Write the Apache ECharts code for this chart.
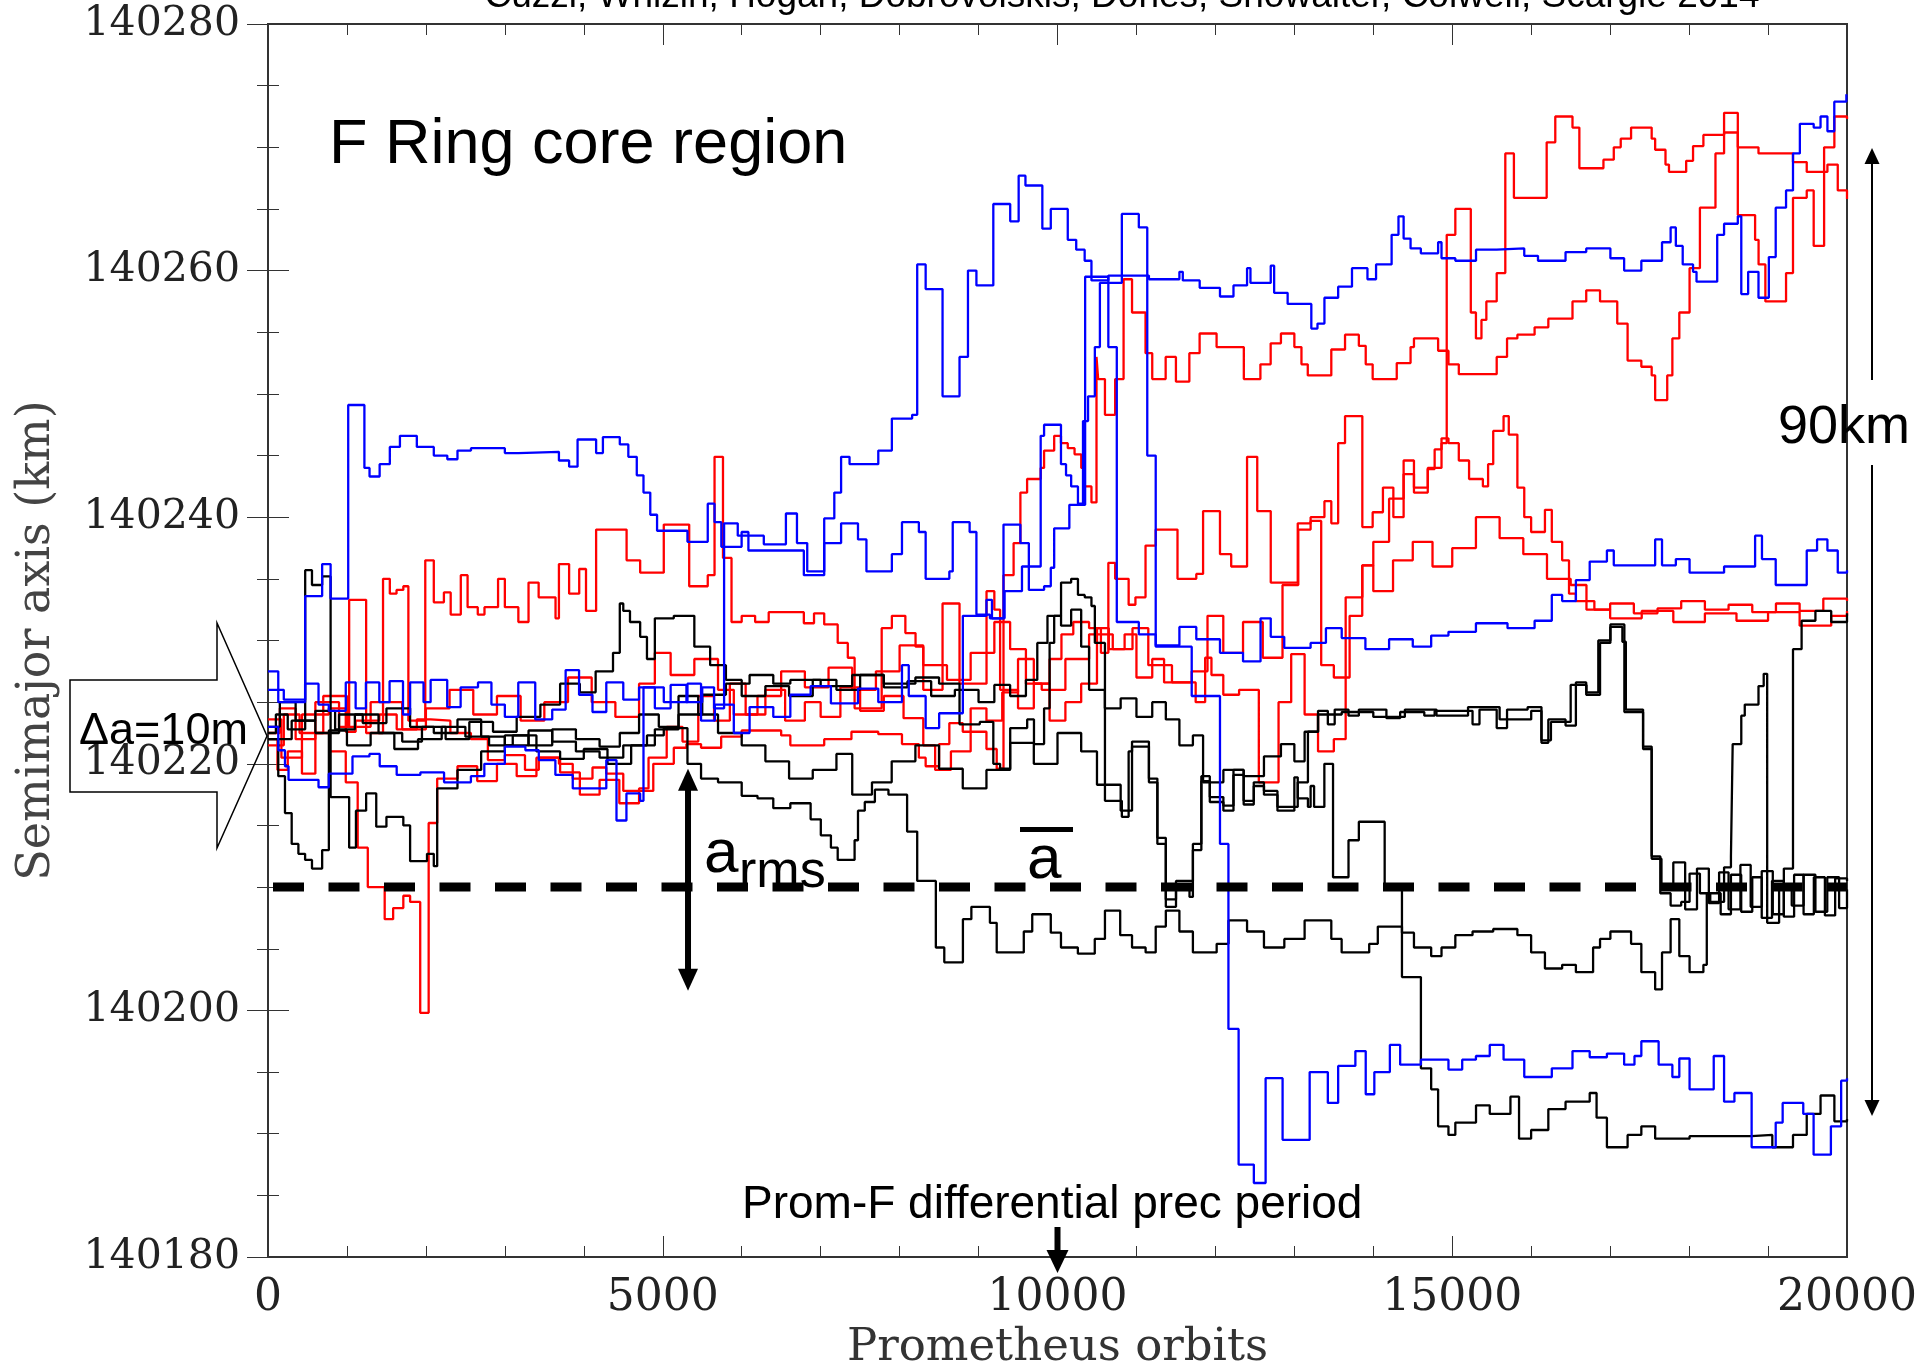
<!DOCTYPE html>
<html><head><meta charset="utf-8">
<script src="https://cdn.jsdelivr.net/npm/echarts@6/dist/echarts.min.js"></script>
<style>html,body{margin:0;padding:0;background:#fff}#chart{width:1923px;height:1364px}</style>
</head><body><div id="chart"></div>
<script>
// ---------- axis ticks ----------
const xTicks = [0, 5000, 10000, 15000, 20000];
const yTicks = [140180, 140200, 140220, 140240, 140260, 140280];
const meanA = 140210;

// ---------- series (orbit, semimajor axis km), step lines ----------
const blue1 = [[0,140226],[200,140225.2],[471,140233.6],[686,140236.2],[793,140233.4],[1016,140249.1],[1221,140244],[1286,140243.3],[1414,140244.3],[1543,140245.7],[1671,140246.6],[1885,140245.7],[2100,140245],[2271,140244.7],[2400,140245.4],[2571,140245.6],[3000,140245.2],[3171,140245.3],[3685,140244.6],[3814,140244.1],[3921,140246.3],[4156,140245.2],[4242,140246.5],[4456,140245.9],[4564,140244.9],[4671,140243.4],[4756,140242],[4842,140240.2],[4928,140238.9],[5313,140238],[5570,140241.1],[5656,140239.6],[5742,140237.6],[5999,140238.8],[6085,140237.3],[6787,140235.3],[7045,140239.9],[7173,140242],[7259,140244.9],[7366,140244.3],[7730,140245.4],[7902,140248],[8159,140248.3],[8223,140260.5],[8330,140258.5],[8544,140249.8],[8759,140253],[8866,140260],[8973,140258.8],[9187,140265.4],[9401,140264],[9508,140267.7],[9594,140266.9],[9808,140263.4],[9915,140265],[10130,140262.5],[10237,140261.7],[10344,140260.8],[10430,140259.2],[10644,140259.6],[11158,140259.3],[11544,140259.9],[11587,140259.2],[11801,140258.6],[12058,140257.9],[12229,140258.8],[12401,140260.2],[12444,140259],[12701,140260.4],[12744,140258.2],[12915,140257.3],[13215,140255.3],[13293,140255.7],[13381,140257.8],[13555,140258.7],[13730,140260.2],[13926,140259.3],[14035,140260.5],[14232,140262.9],[14319,140264.4],[14384,140262.6],[14472,140261.8],[14602,140261.4],[14821,140262.3],[14864,140261],[15039,140260.8],[15301,140261.7],[15563,140261.8],[15912,140261.2],[16086,140260.8],[16435,140261.5],[16697,140261.8],[17003,140261],[17177,140260],[17395,140260.8],[17657,140262.3],[17766,140263.5],[17832,140262],[17919,140260.5],[18050,140259.9],[18094,140259.1],[18356,140262.9],[18443,140263.8],[18617,140264.4],[18661,140258.1],[18748,140259.9],[18879,140257.8],[19010,140261.1],[19097,140265.1],[19228,140266.5],[19316,140269.5],[19403,140271.9],[19578,140271.6],[19665,140272.5],[19752,140271.3],[19839,140273.7],[19992,140274.3],[20000,140274.3]];
const blue2 = [[0,140227.5],[130,140225],[470,140226.5],[640,140224.8],[770,140224.3],[985,140226.6],[1110,140224.5],[1240,140226.6],[1410,140225],[1540,140226.7],[1710,140224],[1800,140226.6],[1970,140225],[2060,140226.8],[2270,140224.6],[2440,140226.2],[2660,140226.6],[2830,140224.8],[3000,140223.8],[3170,140226.6],[3385,140223.6],[3600,140224.4],[3770,140227.6],[3940,140225.6],[4110,140224.2],[4285,140226.6],[4500,140225.2],[4700,140226.2],[4900,140224.5],[5100,140226.4],[5300,140225],[5500,140226.2],[5650,140224.5],[5777,140239.5],[5950,140238.5],[6280,140237.8],[6560,140240.3],[6700,140237.9],[6830,140235.6],[7045,140237.9],[7259,140239.5],[7473,140238.2],[7580,140235.6],[7902,140237],[8030,140239.6],[8244,140238.8],[8330,140235],[8630,140235.6],[8673,140239.6],[8887,140238.8],[8973,140232.1],[9144,140231.8],[9316,140239.4],[9530,140237.9],[9637,140234.1],[9830,140234.4],[9915,140235.9],[9958,140239.1],[10150,140241],[10350,140259.5],[10644,140253.8],[10751,140231.5],[11030,140230.5],[11244,140229.6],[11544,140231.1],[11758,140230.1],[12058,140229],[12350,140228.3],[12572,140231.8],[12701,140230.3],[12872,140229.4],[13206,140229.8],[13400,140231],[13600,140230.2],[13900,140229.3],[14200,140230.1],[14500,140229.5],[14733,140230.4],[14952,140230.7],[15300,140231.4],[15700,140231],[16043,140231.6],[16261,140233.7],[16392,140233.2],[16566,140234.9],[16741,140236.4],[16959,140237.3],[17046,140236.1],[17570,140238.2],[17657,140236.1],[17832,140236.6],[18006,140235.5],[18443,140236],[18836,140238.5],[18923,140236.6],[19097,140234.5],[19490,140237.3],[19621,140238.2],[19752,140237.3],[19883,140235.5],[20000,140235.7]];
const blue3 = [[0,140223],[130,140221.1],[215,140219.8],[260,140218.7],[640,140218.1],[770,140219.2],[1070,140220.6],[1285,140220.8],[1415,140219.8],[1630,140219.1],[1930,140219.3],[2230,140218.5],[2570,140219],[2740,140220],[3000,140221.4],[3260,140221.1],[3430,140220.3],[3640,140219.1],[3860,140218],[4285,140220.3],[4414,140215.4],[4540,140217.6],[4714,140217],[4756,140226.2],[5013,140225],[5313,140226.5],[5485,140223.5],[5660,140224.8],[5900,140222.5],[6100,140224.6],[6400,140223.8],[6616,140225.6],[6873,140226.3],[7130,140224.9],[7473,140226.1],[7730,140225],[8030,140228],[8116,140225.5],[8330,140222.9],[8501,140224.1],[8801,140232],[9100,140233.3],[9170,140231.8],[9330,140234],[9550,140236],[9787,140246.6],[9830,140247.5],[10044,140244.3],[10108,140243.4],[10173,140242.5],[10259,140241.1],[10323,140247.8],[10387,140249.8],[10473,140253.8],[10537,140259],[10815,140264.6],[11030,140263.5],[11137,140245],[11244,140229.5],[11700,140225.5],[12058,140213.5],[12165,140198.5],[12294,140187.5],[12487,140186],[12636,140194.5],[12851,140189.5],[13194,140195],[13424,140192.5],[13555,140195.5],[13773,140196.7],[13904,140193.2],[14013,140195],[14210,140197.2],[14340,140195.6],[14603,140196],[14952,140195.2],[15126,140196],[15300,140196.3],[15475,140197.2],[15650,140196],[15912,140194.6],[16261,140195.3],[16523,140196.7],[16741,140196.2],[16959,140196.5],[17177,140195.6],[17308,140196.3],[17395,140197.5],[17614,140195.6],[17788,140194.6],[17876,140196.1],[18006,140193.6],[18312,140196.3],[18443,140192.6],[18574,140193.3],[18792,140188.9],[19097,140190.9],[19185,140192.5],[19446,140191.6],[19577,140188.3],[19796,140190.6],[19926,140194.3],[20000,140194.5]];

const red1 = [[0,140223.6],[170,140220.5],[430,140224],[770,140224.5],[985,140222.6],[1110,140223.5],[1410,140224],[1630,140222.8],[1885,140223.6],[2060,140223.5],[2310,140222.5],[2570,140222],[2785,140220.3],[3000,140220.7],[3255,140219.5],[3430,140220.5],[3685,140220],[3860,140218.8],[4110,140219.7],[4285,140219.2],[4500,140217.8],[4880,140220],[5140,140221.3],[5300,140221.6],[5485,140221.3],[5740,140222.2],[6000,140222.7],[6500,140222.3],[6616,140221.5],[7045,140222],[7390,140222.6],[7730,140222.4],[8030,140221.6],[8244,140220.5],[8330,140219.8],[8500,140221.6],[8630,140223.3],[8800,140222.6],[9100,140221.2],[9230,140219.6],[9316,140235.3],[9444,140237.9],[9530,140242],[9615,140243.1],[9787,140244],[9830,140245.4],[9958,140246.6],[10044,140246],[10130,140245.6],[10216,140245.1],[10301,140244],[10345,140242.5],[10430,140241.2],[10494,140253],[10515,140251.2],[10601,140248.3],[10730,140251.2],[10837,140259.3],[10944,140256.6],[11115,140253.3],[11200,140251.2],[11370,140253],[11500,140251],[11670,140253.3],[11800,140254.9],[12015,140253.8],[12360,140251.2],[12570,140252.4],[12700,140254.1],[12830,140254.9],[13000,140253.8],[13090,140252.4],[13170,140251.5],[13468,140253.6],[13642,140254.8],[13817,140253.9],[13904,140252.4],[13992,140251.2],[14297,140252.5],[14472,140253.8],[14515,140254.5],[14821,140253.5],[14952,140252.4],[15083,140251.6],[15563,140253],[15694,140254.5],[15825,140254.8],[16043,140255.4],[16217,140256.1],[16523,140257.5],[16697,140258.4],[16872,140257.5],[17090,140255.7],[17221,140252.7],[17395,140252.2],[17526,140251.5],[17570,140249.5],[17723,140251.5],[17788,140254.5],[17876,140256.6],[18006,140260.2],[18137,140265.1],[18334,140269.5],[18443,140272.8],[18617,140264.5],[18836,140262.5],[18880,140260.5],[18966,140257.5],[19228,140259.8],[19316,140265.9],[19490,140266.5],[19578,140262],[19710,140270],[19840,140272.5],[20000,140272.3]];
const red2 = [[0,140222.5],[150,140224.5],[350,140222],[600,140225],[900,140223],[1028,140233.3],[1243,140222.5],[1457,140235],[1543,140233.8],[1628,140234.1],[1714,140234.4],[1778,140223.5],[1992,140236.5],[2100,140233.1],[2228,140233.9],[2314,140232.1],[2442,140235.3],[2528,140232.7],[2657,140232.1],[2742,140232.7],[2914,140235],[3000,140232.7],[3171,140231.5],[3300,140234.7],[3428,140233.5],[3642,140231.8],[3685,140236.2],[3814,140233.8],[3942,140235.8],[4028,140232.4],[4156,140239],[4542,140236.5],[4714,140235.5],[5013,140239.4],[5335,140234.4],[5570,140235.3],[5656,140244.9],[5763,140236.7],[5871,140231.5],[6000,140232],[6170,140231.5],[6342,140232.3],[6616,140232.3],[6787,140231.4],[6916,140232.2],[7045,140231.3],[7216,140229.8],[7344,140228.6],[7430,140224.5],[7773,140231],[7902,140232],[8073,140230.6],[8202,140229.5],[8300,140226],[8544,140233],[8759,140226.5],[9101,140234],[9200,140232.5],[9273,140226],[9500,140224.5],[9700,140226.5],[9900,140228.5],[10050,140230.5],[10200,140231.5],[10400,140231],[10550,140229],[10644,140236.3],[10730,140235],[10901,140232.9],[10987,140233.5],[11115,140237.7],[11244,140239],[11520,140235],[11758,140235.4],[11844,140240.5],[12058,140237],[12200,140236],[12401,140244.9],[12530,140240.5],[12701,140234.7],[13043,140239.5],[13206,140240],[13381,140241.3],[13468,140239.5],[13555,140246],[13642,140248.2],[13861,140239.2],[13992,140240.4],[14122,140242.4],[14254,140240],[14384,140244.6],[14515,140242.4],[14690,140243.9],[14777,140245.5],[14864,140246.4],[14952,140246],[15083,140244.6],[15213,140243.1],[15388,140242.5],[15454,140244.3],[15519,140247],[15650,140248.2],[15716,140246.7],[15825,140242.4],[15912,140240],[15999,140238.8],[16174,140240.6],[16261,140238],[16392,140236.5],[16479,140233.8],[16566,140233.2],[16800,140232.5],[17000,140233],[17300,140232.2],[17600,140232.6],[17900,140233.2],[18200,140232.5],[18500,140232.9],[18800,140232.3],[19100,140233],[19400,140232.4],[19700,140233.4],[20000,140233.2]];
const red3 = [[0,140221.5],[200,140224],[400,140222.5],[700,140225.5],[1000,140223],[1300,140225],[1700,140222.8],[2000,140224.5],[2300,140226],[2600,140224],[2900,140225.5],[3200,140223.5],[3500,140225],[3800,140227],[4100,140225],[4400,140223.8],[4700,140226.5],[4900,140229],[5100,140227.2],[5400,140228.5],[5700,140226],[5900,140224],[6200,140225.5],[6500,140227.5],[6800,140226.2],[7100,140227.8],[7400,140226],[7700,140227.5],[8000,140229.6],[8300,140228],[8600,140226.8],[8900,140229],[9200,140231.5],[9400,140229.3],[9600,140226.5],[9800,140226],[10100,140228.5],[10400,140230.5],[10700,140229.3],[10950,140231],[11150,140228],[11450,140226.6],[11700,140227.5],[11900,140232],[12100,140229],[12350,140231.5],[12600,140228.6],[12850,140234.5],[13050,140239],[13206,140239.7],[13340,140228],[13500,140227],[13700,140232],[13860,140236.1],[14000,140238],[14200,140241.5],[14384,140243.5],[14515,140242],[14690,140244],[14864,140246],[14930,140262.9],[15039,140265],[15235,140256.6],[15300,140254.5],[15370,140256],[15432,140257.5],[15563,140259.8],[15672,140269.5],[15781,140265.9],[16196,140270.4],[16305,140272.5],[16523,140271.6],[16610,140268.3],[16915,140269],[17046,140270],[17134,140270.7],[17265,140271.6],[17526,140270.7],[17570,140269.8],[17701,140268.6],[17745,140268],[17963,140268.9],[18050,140270.1],[18181,140271],[18443,140271.2],[18617,140270],[18879,140269.5],[19316,140268.8],[19490,140268],[19752,140268.6],[19883,140266.5],[20000,140265.8]];
const red4 = [[0,140222],[120,140219.5],[250,140221],[430,140219.2],[600,140222.5],[780,140221],[985,140218.5],[1136,140213.2],[1264,140210],[1478,140207.4],[1585,140208.3],[1714,140209.3],[1800,140208.8],[1928,140199.8],[2035,140215.2],[2143,140218.8],[2400,140219.8],[2650,140218.6],[2900,140220],[3150,140219],[3400,140220.5],[3700,140219.3],[3950,140217.5],[4200,140218.7],[4450,140216.8],[4700,140218],[4820,140220.5],[5050,140223],[5250,140221.8],[5450,140225.5],[5650,140223.5],[5850,140226.5],[6050,140224],[6300,140226],[6550,140223.5],[6800,140225],[7000,140223.8],[7250,140226.2],[7500,140224.3],[7800,140225.5],[8050,140223.7],[8300,140221.5],[8450,140219.5],[8650,140221],[8900,140224.5],[9100,140223.5],[9300,140225.8],[9500,140228.5],[9700,140226.5],[9900,140223.5],[10100,140225],[10300,140226.5],[10500,140231],[10650,140229.3],[10850,140230.5],[11000,140227],[11200,140228.5],[11350,140226.6],[11750,140225],[11870,140228.6],[11950,140227.2],[12100,140225.6],[12300,140226],[12550,140218.5],[12800,140225],[12960,140228.9],[13130,140224],[13300,140221],[13500,140222],[13650,140233.5],[13861,140236.1],[14000,140234],[14250,140236.5],[14500,140238],[14750,140236],[15000,140237.5],[15300,140240],[15600,140238.3],[15900,140237],[16200,140235],[16500,140234.5],[16700,140232.5],[17000,140231.8],[17400,140232.4],[17800,140231.5],[18200,140232.2],[18600,140231.6],[19000,140232.3],[19400,140231.2],[19800,140232],[20000,140232.4]];

const black1 = [[0,140222],[130,140219],[215,140216],[300,140213.5],[385,140212.7],[470,140212.2],[557,140211.5],[686,140213],[771,140222.7],[1000,140221.5],[1300,140222.5],[1600,140221.2],[1900,140222],[2200,140223],[2500,140222.2],[2800,140221.5],[3100,140222.3],[3400,140221],[3700,140220.4],[4000,140221.2],[4300,140220],[4600,140221.5],[4900,140222.8],[5200,140224],[5500,140225.6],[5800,140226.5],[6100,140227.2],[6400,140226.5],[6616,140226.8],[7000,140226.3],[7400,140227.2],[7800,140226.5],[8200,140227],[8500,140226.5],[8759,140223.2],[9016,140223.4],[9187,140220],[9273,140219.6],[9401,140222.9],[9616,140223.6],[9702,140221.6],[9830,140224.5],[9900,140229.8],[9958,140232],[10045,140234.7],[10173,140235],[10259,140233.7],[10345,140233.5],[10430,140232.8],[10473,140229.8],[10601,140217],[10815,140215.7],[10901,140221],[10944,140221.8],[11158,140218.5],[11265,140213.5],[11372,140208.4],[11501,140210],[11672,140209.2],[11715,140213.5],[11822,140219],[11929,140216.9],[12101,140216.2],[12229,140219.5],[12358,140216.7],[12486,140218.2],[12615,140217.5],[12786,140216.2],[13000,140218.9],[13043,140217.2],[13172,140216.5],[13206,140218.2],[13250,140216.5],[13380,140220],[13490,140210.8],[13686,140213.8],[13817,140215.3],[14144,140210],[14363,140202.7],[14603,140195.3],[14733,140193.6],[14821,140190.6],[14952,140189.9],[15039,140190.9],[15301,140192.3],[15475,140191.6],[15737,140193],[15846,140189.6],[15999,140190.3],[16217,140192],[16435,140192.6],[16741,140193.3],[16828,140191.3],[16959,140188.9],[17221,140189.9],[17395,140190.6],[17570,140189.6],[18006,140189.8],[18792,140189.9],[19054,140188.9],[19316,140189.9],[19490,140191.6],[19665,140193.1],[19840,140191],[20000,140191.2]];
const black2 = [[0,140222],[300,140223.5],[600,140222.5],[900,140224],[1200,140223.3],[1500,140224.5],[1800,140223],[2100,140222.5],[2400,140223.6],[2700,140222.2],[3000,140221.5],[3300,140222.7],[3600,140221.8],[3900,140221],[4200,140220.5],[4500,140221.5],[4800,140222.3],[5013,140222.9],[5313,140220],[5485,140218.8],[5700,140218.5],[6000,140217.4],[6200,140217.2],[6400,140216.4],[6616,140216.8],[6873,140215.5],[7002,140214.2],[7130,140213.2],[7216,140212.2],[7430,140213.8],[7473,140216.2],[7559,140216.9],[7687,140217.9],[7859,140217.5],[8095,140214.5],[8223,140210.5],[8459,140205.1],[8566,140203.9],[8802,140207.4],[8909,140208.4],[9144,140207.1],[9230,140204.7],[9573,140206.4],[9680,140207.8],[9915,140206.3],[10044,140205.1],[10258,140204.6],[10472,140205.8],[10601,140208.1],[10794,140206.1],[10944,140205.1],[11116,140204.7],[11244,140206.8],[11372,140208.1],[11544,140206.4],[11715,140204.7],[12016,140205.4],[12166,140207.3],[12401,140206.4],[12615,140205.1],[12873,140205.8],[13130,140207.3],[13468,140205.8],[13599,140204.7],[13948,140205.4],[14057,140206.8],[14363,140206.3],[14515,140205.1],[14733,140204.4],[14864,140205.1],[15039,140206.1],[15257,140206.4],[15519,140206.6],[15825,140206.1],[15999,140204.7],[16174,140203.4],[16392,140203.7],[16566,140203.1],[16784,140205.1],[16872,140205.8],[17003,140206.4],[17265,140205.4],[17395,140203.1],[17570,140201.7],[17657,140204.7],[17766,140207.4],[17876,140204.4],[18006,140203.1],[18181,140203.7],[18224,140209.5],[18400,140207.8],[18530,140211],[18660,140208],[18800,140210.8],[18920,140207.5],[19050,140210.5],[19200,140207.6],[19330,140211],[19450,140207.8],[19580,140210.8],[19720,140207.7],[19850,140210.7],[20000,140210.5]];
const black3 = [[0,140223],[150,140225],[350,140223.5],[600,140224.3],[850,140222.8],[1100,140224],[1400,140222.5],[1700,140221.8],[1950,140223],[2250,140222],[2550,140223.4],[2850,140222.6],[3150,140223.8],[3450,140224.8],[3700,140226.5],[3950,140225.8],[4150,140227.5],[4370,140229],[4456,140233],[4500,140232.4],[4585,140231.5],[4714,140230.3],[4800,140228.5],[4900,140231.8],[5140,140232],[5400,140229.5],[5600,140228],[5800,140226.8],[6000,140225.5],[6300,140226.3],[6600,140225.5],[6900,140226.8],[7200,140226],[7500,140227.2],[7800,140226.2],[8100,140226.7],[8400,140225.5],[8700,140226],[9000,140225],[9200,140226.4],[9400,140225.5],[9600,140226.8],[9744,140229.8],[9873,140232],[10045,140231.2],[10173,140232.5],[10300,140229.5],[10400,140226],[10600,140224.5],[10800,140225.3],[11000,140223.8],[11200,140225],[11372,140223.6],[11544,140221.5],[11715,140222.3],[11844,140218.5],[12101,140219.5],[12358,140219],[12615,140220.6],[12830,140221.6],[13000,140220.2],[13130,140222.6],[13300,140224.3],[13424,140223.2],[13511,140224.4],[13686,140223.9],[13817,140224.4],[14166,140223.7],[14340,140224.2],[14646,140223.9],[14777,140224.3],[15257,140223.2],[15345,140224.4],[15563,140222.9],[15694,140224.4],[15955,140224.6],[16130,140221.7],[16217,140223.6],[16435,140223.1],[16566,140226.6],[16697,140225.6],[16872,140229.8],[17003,140231.1],[17155,140229.9],[17199,140224.4],[17417,140221.4],[17526,140212.5],[17635,140209.5],[17766,140208.5],[17900,140208.8],[18006,140211.1],[18137,140209.5],[18268,140208.8],[18443,140211.6],[18530,140212.5],[18552,140221.6],[18661,140223.9],[18705,140224.8],[18879,140226.3],[18945,140227.3],[18989,140207.1],[19140,140210.1],[19300,140208.5],[19450,140211],[19600,140208],[19750,140210.8],[19900,140208.3],[20000,140209.8]];
const black4 = [[0,140222.5],[100,140224],[250,140222.8],[471,140235.7],[557,140234.5],[686,140235.2],[793,140217.3],[1028,140213.2],[1114,140216.2],[1243,140217.6],[1371,140214.9],[1500,140215.7],[1714,140215],[1800,140212.1],[2014,140212.7],[2100,140211.7],[2143,140218],[2400,140219.5],[2700,140221],[3000,140222.3],[3300,140221.5],[3600,140222.8],[3900,140222],[4200,140221.4],[4456,140222.5],[4700,140224],[4950,140223],[5200,140225.5],[5450,140224],[5700,140222.5],[6000,140221.5],[6300,140220.2],[6600,140218.8],[6900,140219.5],[7200,140220.8],[7400,140217.5],[7650,140218.5],[7900,140220.2],[8200,140221.5],[8500,140219.6],[8800,140218],[9100,140219.5],[9400,140221.7],[9700,140220],[10000,140222.5],[10300,140221],[10500,140218.3],[10800,140216.2],[10944,140221.4],[11158,140218.8],[11265,140214],[11372,140209],[11501,140210.5],[11715,140213],[11822,140218.6],[11929,140217.3],[12101,140216.6],[12229,140219.1],[12358,140217],[12486,140218.5],[12615,140217.8],[12786,140216.5],[13043,140218.5],[13172,140222.6],[13300,140224],[13600,140224.2],[14000,140223.8],[14400,140224.4],[14800,140223.9],[15200,140224.6],[15600,140223.6],[16000,140224.3],[16130,140221.9],[16250,140223.4],[16500,140226.4],[16700,140225.8],[16850,140230],[17003,140231.3],[17180,140224.2],[17417,140221.2],[17526,140212.3],[17650,140209.8],[17800,140212],[17950,140208.2],[18100,140211.5],[18250,140208.7],[18380,140211.2],[18500,140208.2],[18650,140211.8],[18780,140208.4],[18920,140211.3],[19060,140207.8],[19200,140211.5],[19316,140229.3],[19425,140231.6],[19600,140232.4],[19800,140231.5],[20000,140232.2]];

// ---------- annotation anchors (data coordinates) ----------
const armsX = 5320, armsTop = 140219.6, armsBottom = 140201.6;
const precX = 10000;

const BLUE = '#0000ff', RED = '#ff0000', BLACK = '#000000';
const lines = [
  [red1, RED], [red2, RED], [red3, RED], [red4, RED],
  [black1, BLACK], [black2, BLACK], [black3, BLACK], [black4, BLACK],
  [blue1, BLUE], [blue2, BLUE], [blue3, BLUE]
];

const chart = echarts.init(document.getElementById('chart'), null, {renderer: 'canvas'});
const serif = "'DejaVu Serif', serif";
const sans = "'Liberation Sans', Arial, sans-serif";
const xMin = xTicks[0], xMax = xTicks[xTicks.length - 1], xStep = xTicks[1] - xTicks[0];
const yMin = yTicks[0], yMax = yTicks[yTicks.length - 1], yStep = yTicks[1] - yTicks[0];
const plain = v => String(v);

const tickCommon = {inside: true, length: 21, lineStyle: {color: '#333', width: 1}};
const minorCommon = {show: true, length: 11, lineStyle: {color: '#333', width: 1}};

const series = lines.map(([d, c]) => ({
  type: 'line', data: d, step: 'end', symbol: 'none', silent: true,
  lineStyle: {color: c, width: 2.3}, z: 2
}));
series.push({
  type: 'line', data: [[xMin, meanA], [xMax, meanA]], symbol: 'none', silent: true,
  lineStyle: {color: '#000', width: 9, type: [31, 24.5], dashOffset: 50.5, cap: 'butt'}, z: 5
});

chart.setOption({
  animation: false,
  backgroundColor: '#fff',
  grid: {left: 268, right: 76, top: 24, bottom: 107, containLabel: false, outerBoundsMode: 'none',
         show: true, borderColor: '#333', borderWidth: 2, backgroundColor: 'transparent'},
  xAxis: [{
    type: 'value', min: xMin, max: xMax, interval: xStep, position: 'bottom',
    axisLine: {show: false}, axisTick: tickCommon, minorTick: Object.assign({splitNumber: 5}, minorCommon),
    splitLine: {show: false}, minorSplitLine: {show: false},
    axisLabel: {fontFamily: serif, fontSize: 44, color: '#222', margin: 20, formatter: plain},
    name: 'Prometheus orbits', nameLocation: 'middle', nameGap: 62,
    nameTextStyle: {fontFamily: serif, fontSize: 45, color: '#333'}
  }, {
    type: 'value', min: xMin, max: xMax, interval: xStep, position: 'top',
    axisLine: {show: false}, axisTick: tickCommon, minorTick: Object.assign({splitNumber: 5}, minorCommon),
    splitLine: {show: false}, axisLabel: {show: false}
  }],
  yAxis: [{
    type: 'value', min: yMin, max: yMax, interval: yStep, position: 'left',
    axisLine: {show: false}, axisTick: tickCommon, minorTick: Object.assign({splitNumber: 4}, minorCommon),
    splitLine: {show: false}, minorSplitLine: {show: false},
    axisLabel: {fontFamily: serif, fontSize: 41, color: '#222', margin: 28, formatter: plain},
    name: 'Semimajor axis (km)', nameLocation: 'middle', nameGap: 208, nameRotate: 90,
    nameTextStyle: {fontFamily: serif, fontSize: 46, color: '#444'}
  }, {
    type: 'value', min: yMin, max: yMax, interval: yStep, position: 'right',
    axisLine: {show: false}, axisTick: tickCommon, minorTick: Object.assign({splitNumber: 4}, minorCommon),
    splitLine: {show: false}, axisLabel: {show: false}
  }],
  series: series
});

const px = (x, y) => chart.convertToPixel({xAxisIndex: 0, yAxisIndex: 0}, [x, y]);
const aT = px(armsX, armsTop), aB = px(armsX, armsBottom);
const pr = px(precX, yMin);
const ax = aT[0];

function txt(text, x, y, size, align) {
  return {type: 'text', z: 100, style: {text: text, x: x, y: y, fill: '#000', font: size + 'px ' + sans, textAlign: align || 'left', textVerticalAlign: 'middle'}};
}

const graphics = [
  txt('Cuzzi, Whizin, Hogan, Dobrovolskis, Dones, Showalter, Colwell, Scargle 2014', 1122, -3, 37, 'center'),
  txt('F Ring core region', 329, 146, 63),
  txt('90km', 1778, 428, 54),
  txt('\u0394a=10m', 79, 732, 45),
  txt('a', 704, 855, 62),
  txt('rms', 739, 873, 52),
  txt('a', 1027, 861, 62),
  txt('Prom-F differential prec period', 742, 1205, 46),
  {type: 'rect', z: 100, shape: {x: 1020, y: 827, width: 53, height: 5}, style: {fill: '#000'}},
  // big hollow arrow
  {type: 'polygon', z: 90, shape: {points: [[70, 680], [217, 680], [217, 623], [267, 736], [217, 848], [217, 792], [70, 792]]},
   style: {fill: 'transparent', stroke: '#000', lineWidth: 1.5}},
  // a_rms double arrow
  {type: 'rect', z: 100, shape: {x: ax - 3, y: aT[1] + 20, width: 6, height: aB[1] - aT[1] - 40}, style: {fill: '#000'}},
  {type: 'polygon', z: 100, shape: {points: [[ax, aT[1]], [ax - 10, aT[1] + 22], [ax + 10, aT[1] + 22]]}, style: {fill: '#000'}},
  {type: 'polygon', z: 100, shape: {points: [[ax, aB[1]], [ax - 10, aB[1] - 22], [ax + 10, aB[1] - 22]]}, style: {fill: '#000'}},
  // precession arrow
  {type: 'rect', z: 100, shape: {x: pr[0] - 3, y: pr[1] - 30, width: 6, height: 24}, style: {fill: '#000'}},
  {type: 'polygon', z: 100, shape: {points: [[pr[0] - 11, pr[1] - 7], [pr[0] + 11, pr[1] - 7], [pr[0], pr[1] + 16]]}, style: {fill: '#000'}},
  // 90 km arrow
  {type: 'line', z: 100, shape: {x1: 1872, y1: 160, x2: 1872, y2: 380}, style: {stroke: '#000', lineWidth: 2}},
  {type: 'line', z: 100, shape: {x1: 1872, y1: 465, x2: 1872, y2: 1104}, style: {stroke: '#000', lineWidth: 2}},
  {type: 'polygon', z: 100, shape: {points: [[1872, 148], [1864.5, 164], [1879.5, 164]]}, style: {fill: '#000'}},
  {type: 'polygon', z: 100, shape: {points: [[1872, 1116], [1864.5, 1100], [1879.5, 1100]]}, style: {fill: '#000'}}
];
chart.setOption({graphic: graphics});
</script>
</body></html>
